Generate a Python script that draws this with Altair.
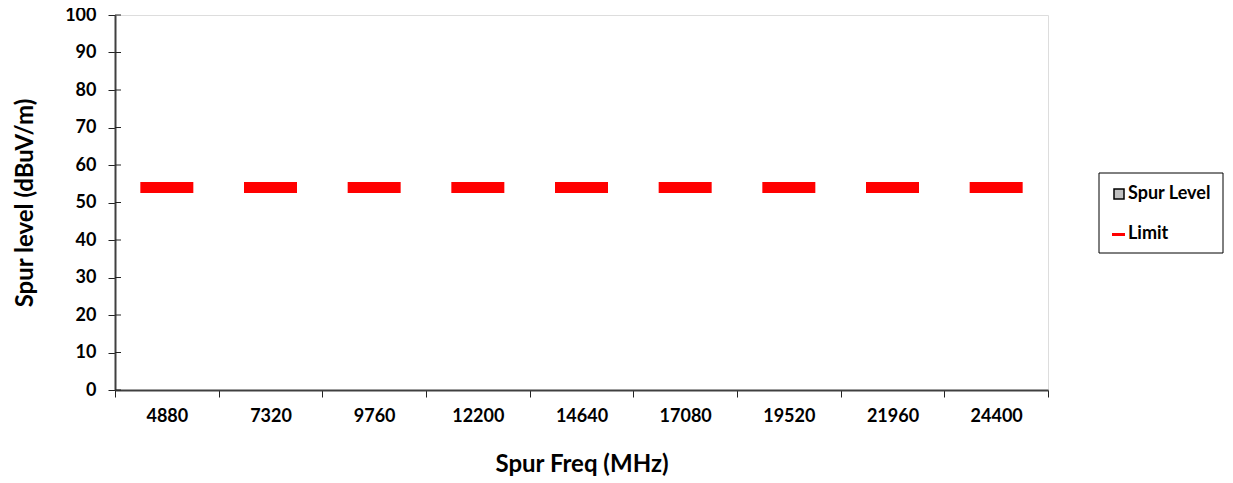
import altair as alt
import pandas as pd

freqs = ["4880", "7320", "9760", "12200", "14640", "17080", "19520", "21960", "24400"]
spur_level = [None, None, None, None, None, None, None, None, None]
limit = [54, 54, 54, 54, 54, 54, 54, 54, 54]
y_ticks = [0, 10, 20, 30, 40, 50, 60, 70, 80, 90, 100]
legend_labels = ["Spur Level", "Limit"]

FONT = "Lato"
W, H = 933, 375

df = pd.DataFrame({"freq": freqs, "spur": spur_level, "limit": limit})

x_scale = alt.Scale(domain=freqs, paddingInner=0, paddingOuter=0)
x_axis = alt.Axis(
    title="Spur Freq (MHz)", titleFont=FONT, titleFontSize=24, titleFontWeight="bold",
    titleColor="black", titlePadding=27,
    labelAngle=0, labelFont=FONT, labelFontSize=18, labelFontWeight="bold",
    labelColor="black", labelPadding=10, labelOverlap=False,
    tickBand="extent", tickSize=7, tickColor="#222", tickWidth=1,
    domainColor="#404040", domainWidth=2, grid=False,
)
y_scale = alt.Scale(domain=[0, 100], nice=False)
y_axis = alt.Axis(
    title="Spur level (dBuV/m)", titleFont=FONT, titleFontSize=24, titleFontWeight="bold",
    titleColor="black", titlePadding=27,
    values=y_ticks, labelFont=FONT, labelFontSize=18, labelFontWeight="bold",
    labelColor="black", labelPadding=12, labelOverlap=False,
    tickSize=7, tickColor="#222", tickWidth=1,
    domainColor="#404040", domainWidth=2, grid=False,
)

limit_marks = alt.Chart(df).mark_tick(color="red", size=53, thickness=11, opacity=1).encode(
    x=alt.X("freq:N", sort=freqs, scale=x_scale, axis=x_axis),
    y=alt.Y("limit:Q", scale=y_scale, axis=y_axis),
)

bars = alt.Chart(df).mark_bar(color="#c0c0c0", stroke="black").encode(
    x=alt.X("freq:N", sort=freqs, scale=x_scale, axis=x_axis),
    y=alt.Y("spur:Q", scale=y_scale, axis=y_axis),
)

# inward half of the cross tick marks on the y axis
tick_df = pd.DataFrame({"v": y_ticks})
inner_y = alt.Chart(tick_df).mark_rule(color="#222", strokeWidth=1).encode(
    y=alt.Y("v:Q", scale=y_scale, axis=y_axis), x=alt.value(0), x2=alt.value(6)
)

one = pd.DataFrame({"a": [0]})
leg_box = alt.Chart(one).mark_rect(fill="white", stroke="black", strokeWidth=1).encode(
    x=alt.value(984), x2=alt.value(1108), y=alt.value(158), y2=alt.value(238)
)
leg_sq = alt.Chart(one).mark_rect(fill="#c0c0c0", stroke="black", strokeWidth=1.5).encode(
    x=alt.value(999), x2=alt.value(1009), y=alt.value(174), y2=alt.value(184)
)
leg_line = alt.Chart(one).mark_rect(fill="red").encode(
    x=alt.value(997), x2=alt.value(1010), y=alt.value(218), y2=alt.value(221)
)
leg_t1 = alt.Chart(one).mark_text(
    align="left", baseline="middle", font=FONT, fontSize=18, fontWeight="bold", color="black",
    text=legend_labels[0]
).encode(x=alt.value(1013), y=alt.value(179))
leg_t2 = alt.Chart(one).mark_text(
    align="left", baseline="middle", font=FONT, fontSize=18, fontWeight="bold", color="black",
    text=legend_labels[1]
).encode(x=alt.value(1013), y=alt.value(219))

chart = alt.layer(limit_marks, bars, inner_y, leg_box, leg_sq, leg_line, leg_t1, leg_t2).properties(
    width=W, height=H,
    autosize=alt.AutoSizeParams(type="none"),
    padding={"left": 107, "top": 7, "right": 177, "bottom": 92},
).configure_view(stroke="#888888", strokeWidth=2).configure(background="white")

chart.save("out.html", embed_options={"renderer": "svg", "actions": False})
